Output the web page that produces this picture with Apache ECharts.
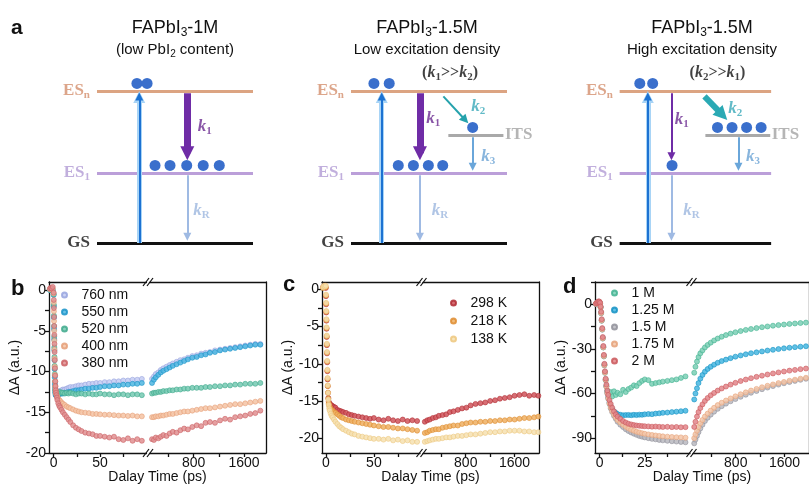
<!DOCTYPE html>
<html>
<head>
<meta charset="utf-8">
<title>FAPbI3 TA kinetics</title>
<script src="https://cdn.jsdelivr.net/npm/echarts@6/dist/echarts.min.js"></script>
<style>
html, body { margin: 0; padding: 0; background: #fff; }
#main { width: 809px; height: 486px; }
</style>
</head>
<body>
<div id="main"></div>
<script>
// ---------- panel a: energy level schematics (x: 0..10 = level width, y: energy units) ----------
const aTitles = ['-1M', '-1.5M', '-1.5M'];
const aSubtitles = ['{n|(low PbI}{s|2}{n| content)}', '{n|Low excitation density}', '{n|High excitation density}'];
const aLevelY = [0, 0.92, 2.0];          // GS, ES1, ESn
const aItsY = 1.42;
const aItsLineX = [null, [6.24, 9.77], [5.66, 9.94]];
const aEsnDotsX = [[2.56, 3.21], [1.47, 2.45], [1.33, 2.18]];
const aEs1DotsX = [[3.72, 4.68, 5.75, 6.81, 7.84], [3.03, 4.0, 4.96, 5.88], [3.46]];
const aItsDotsX = [[], [7.8], [6.46, 7.42, 8.38, 9.34]];
const aPumpX = [2.71, 1.97, 1.86];
const aK1X = [5.79, 4.42, 3.42];
const aK1Thick = [true, true, false];
const aK2From = [null, [5.92, 1.93], [5.6, 1.93]];
const aK2To = [null, [7.52, 1.575], [7.1, 1.62]];
const aK2Thick = [false, false, true];
const aK3X = [null, 7.8, 7.84];
const aK1Label = [[6.9, 1.53], [5.28, 1.64], [4.1, 1.62]];
const aKRLabel = [[6.7, 0.43], [5.71, 0.43], [4.74, 0.43]];
const aK2Label = [null, [8.16, 1.79], [7.63, 1.77]];
const aK3Label = [null, [8.8, 1.14], [8.8, 1.14]];
const aRatio = [null, ['1', '2'], ['2', '1']];
const aRatioX = [null, 6.35, 6.46];

// ---------- panel b ----------
const bNames = ['760 nm', '550 nm', '520 nm', '400 nm', '380 nm'];
const tB_L = [-4, -3, -2, -1, 0, 0.15, 0.3, 0.45, 0.6, 0.75, 0.9, 1.05, 1.2, 1.4, 1.6, 1.8, 2, 2.3, 2.6, 3,
  3.5, 4, 5, 6, 7, 8.5, 10, 12, 14, 16, 18, 21, 24, 27, 30, 34, 38, 42, 46, 50, 55, 60, 65, 70, 75, 80, 85, 90, 95];
const b760_L = [0.1, 0.0, 0.1, 0.0, -0.5, -1.9, -3.3, -4.6, -5.9, -7.2, -8.4, -9.5, -10.5, -11.4, -12.0, -12.4, -12.6, -12.7, -12.7, -12.6,
  -12.6, -12.5, -12.5, -12.4, -12.4, -12.3, -12.2, -12.2, -12.1, -12.0, -11.9, -11.9, -11.8, -11.7, -11.7, -11.6, -11.5, -11.5, -11.4, -11.4, -11.3, -11.3, -11.2, -11.2, -11.1, -11.1, -11.0, -11.0, -10.9];
const b550_L = [0.0, 0.1, 0.0, -0.1, -0.6, -2.0, -3.4, -4.8, -6.1, -7.4, -8.6, -9.7, -10.7, -11.6, -12.2, -12.6, -12.8, -12.9, -12.9, -12.9,
  -12.8, -12.8, -12.8, -12.8, -12.7, -12.7, -12.7, -12.6, -12.6, -12.5, -12.5, -12.4, -12.3, -12.3, -12.2, -12.1, -12.1, -12.0, -12.0, -11.9, -11.8, -11.8, -11.7, -11.7, -11.6, -11.6, -11.5, -11.5, -11.4];
const b520_L = [0.1, 0.0, 0.2, 0.1, -0.5, -1.8, -3.1, -4.4, -5.7, -7.0, -8.2, -9.3, -10.3, -11.2, -11.9, -12.3, -12.5, -12.6, -12.7, -12.6,
  -12.6, -12.5, -12.6, -12.6, -12.5, -12.6, -12.6, -12.7, -12.6, -12.7, -12.6, -12.7, -12.8, -12.7, -12.7, -12.8, -12.7, -12.8, -12.8, -12.7, -12.8, -12.8, -12.9, -12.8, -12.8, -12.9, -12.8, -12.8, -12.9];
const b400_L = [0.1, 0.2, 0.1, 0.2, -0.4, -1.5, -2.6, -3.8, -5.0, -6.2, -7.3, -8.4, -9.4, -10.4, -11.2, -11.8, -12.2, -12.5, -12.7, -12.8,
  -13.0, -13.1, -13.3, -13.5, -13.6, -13.8, -13.95, -14.1, -14.3, -14.4, -14.5, -14.65, -14.8, -14.9, -15.0, -15.05, -15.1, -15.2, -15.2, -15.25, -15.3, -15.3, -15.35, -15.4, -15.4, -15.45, -15.4, -15.5, -15.5];
const b380_L = [0.2, 0.3, 0.2, 0.4, -0.3, -1.2, -2.2, -3.3, -4.4, -5.5, -6.6, -7.6, -8.6, -9.6, -10.5, -11.2, -11.8, -12.3, -12.6, -12.9,
  -13.2, -13.5, -13.9, -14.2, -14.4, -14.7, -15.0, -15.3, -15.6, -15.9, -16.2, -16.6, -16.9, -17.1, -17.3, -17.5, -17.6, -17.7, -17.9, -17.9, -18.0, -18.1, -18.0, -18.3, -18.4, -18.2, -18.5, -18.3, -18.5];
const tB_R = [140, 170, 200, 240, 280, 320, 370, 420, 470, 530, 590, 650, 710, 780, 850, 920, 990, 1060, 1140, 1220, 1300, 1380, 1460, 1540, 1620, 1700, 1780, 1860];
const b760_R = [-10.9, -10.6, -10.3, -10.1, -9.8, -9.6, -9.4, -9.2, -9.0, -8.8, -8.6, -8.5, -8.3, -8.1, -8.0, -7.8, -7.7, -7.6, -7.4, -7.3, -7.2, -7.1, -7.0, -6.9, -6.8, -6.7, -6.6, -6.6];
const b550_R = [-11.4, -11.0, -10.7, -10.4, -10.1, -9.9, -9.7, -9.5, -9.3, -9.1, -8.9, -8.7, -8.5, -8.3, -8.2, -8.0, -7.9, -7.7, -7.6, -7.4, -7.3, -7.2, -7.1, -7.0, -6.9, -6.8, -6.7, -6.7];
const b520_R = [-12.7, -12.6, -12.6, -12.5, -12.5, -12.4, -12.4, -12.3, -12.3, -12.2, -12.2, -12.1, -12.1, -12.0, -12.0, -12.0, -11.9, -11.9, -11.8, -11.8, -11.7, -11.7, -11.6, -11.6, -11.5, -11.5, -11.5, -11.4];
const b400_R = [-15.6, -15.6, -15.5, -15.5, -15.4, -15.4, -15.3, -15.2, -15.2, -15.1, -15.0, -14.9, -14.9, -14.8, -14.7, -14.6, -14.5, -14.5, -14.4, -14.3, -14.2, -14.1, -14.0, -14.0, -13.9, -13.8, -13.7, -13.6];
const b380_R = [-18.3, -18.4, -18.1, -18.2, -18.0, -17.8, -17.9, -17.6, -17.4, -17.5, -17.2, -17.0, -17.1, -16.8, -16.6, -16.7, -16.3, -16.2, -16.3, -16.0, -15.8, -15.9, -15.6, -15.5, -15.4, -15.2, -15.1, -14.8];

// ---------- panel c ----------
const cNames = ['298 K', '218 K', '138 K'];
const tC_L = [-3, -2, -1, 0, 0.15, 0.3, 0.45, 0.6, 0.75, 0.9, 1.05, 1.2, 1.4, 1.6, 1.8, 2, 2.3, 2.6, 3,
  3.5, 4, 5, 6, 7, 8.5, 10, 12, 14, 16, 18, 21, 24, 27, 30, 34, 38, 42, 46, 50, 55, 60, 65, 70, 75, 80, 85, 90, 95];
const c298_L = [0.3, 0.4, 0.5, 0.2, -0.9, -2.0, -3.1, -4.2, -5.3, -6.4, -7.5, -8.6, -9.8, -11.0, -12.1, -13.0, -13.9, -14.6, -15.1,
  -15.3, -15.4, -15.5, -15.6, -15.7, -15.8, -15.9, -16.2, -16.3, -16.4, -16.5, -16.6, -16.8, -16.9, -17.0, -17.1, -17.2, -17.3, -17.4, -17.3, -17.5, -17.6, -17.4, -17.6, -17.7, -17.5, -17.7, -17.6, -17.7];
const c218_L = [0.2, 0.3, 0.4, 0.3, -0.8, -1.9, -3.0, -4.1, -5.2, -6.3, -7.4, -8.5, -9.7, -10.9, -12.0, -13.0, -13.9, -14.7, -15.3,
  -15.6, -15.8, -16.0, -16.2, -16.3, -16.5, -16.6, -16.8, -17.0, -17.2, -17.3, -17.5, -17.6, -17.7, -17.8, -17.9, -18.0, -18.1, -18.2, -18.3, -18.4, -18.5, -18.5, -18.6, -18.7, -18.7, -18.8, -18.9, -19.0];
const c138_L = [0.3, 0.5, 0.4, 0.5, -0.7, -1.8, -2.9, -4.0, -5.1, -6.2, -7.3, -8.4, -9.6, -10.8, -11.9, -12.9, -13.9, -14.8, -15.5,
  -16.0, -16.3, -16.7, -17.0, -17.2, -17.5, -17.8, -18.1, -18.4, -18.6, -18.8, -19.0, -19.2, -19.4, -19.5, -19.7, -19.8, -19.9, -20.0, -20.1, -20.1, -20.2, -20.1, -20.3, -20.2, -20.4, -20.3, -20.5, -20.5];
const tC_R = [130, 170, 210, 260, 310, 360, 420, 480, 540, 600, 670, 740, 810, 880, 960, 1040, 1120, 1200, 1280, 1360, 1440, 1520, 1600, 1680, 1760, 1840, 1920, 1990];
const c298_R = [-17.8, -17.6, -17.5, -17.3, -17.2, -17.0, -16.9, -16.8, -16.5, -16.4, -16.2, -16.0, -15.9, -15.6, -15.4, -15.3, -15.2, -15.0, -14.9, -14.7, -14.6, -14.5, -14.3, -14.2, -14.1, -14.3, -14.2, -14.3];
const c218_R = [-19.3, -19.2, -19.0, -18.9, -18.8, -18.8, -18.6, -18.5, -18.4, -18.3, -18.3, -18.1, -18.0, -17.9, -17.9, -17.8, -17.8, -17.7, -17.7, -17.6, -17.6, -17.5, -17.5, -17.4, -17.3, -17.3, -17.2, -17.1];
const c138_R = [-20.5, -20.4, -20.3, -20.2, -20.1, -20.1, -20.0, -19.9, -19.9, -19.8, -19.7, -19.7, -19.6, -19.5, -19.5, -19.4, -19.3, -19.2, -19.2, -19.1, -19.1, -19.0, -19.0, -19.0, -19.1, -19.1, -19.2, -19.2];

// ---------- panel d ----------
const dNames = ['1 M', '1.25 M', '1.5 M', '1.75 M', '2 M'];
const tD_L = [-2, -1.5, -1, -0.5, 0, 0.3, 0.6, 0.9, 1.2, 1.5, 1.8, 2.1, 2.4, 2.7, 3,
  3.4, 3.8, 4.3, 4.8, 5.5, 6.2, 7, 8, 9, 10, 11.5, 13, 14.5, 16, 17.5, 19, 20.5, 22, 23.5, 25,
  27, 29, 31, 33, 35, 37.5, 40, 42.5, 45, 47.5];
const d100_L = [0.3, 0.8, 1.2, 1.5, 1.2, 0.5, -2, -6, -11, -17, -23, -29, -35, -41, -46,
  -51, -55, -58, -60, -61.5, -59, -62, -58.5, -61, -59.5, -60.5, -57.5, -59, -57, -56, -54.5, -55, -53, -51.5, -50.5,
  -51, -53.5, -53, -52.5, -52, -51.5, -51, -50.5, -49.5, -48.5];
const d125_L = [0.4, 0.9, 1.3, 1.6, 1.4, 0.6, -1.8, -5.5, -10.5, -16.5, -22.5, -28.5, -34.5, -40.5, -45.5,
  -50.5, -55, -59, -62.5, -66, -68.5, -70.5, -72, -73, -73.8, -74.3, -74.6, -74.5, -74.4, -74.6, -74.3, -74.5, -74.2, -74.3, -74.0,
  -73.8, -73.9, -73.5, -73.3, -73.0, -72.8, -72.5, -72.2, -71.9, -71.6];
const d150_L = [0.2, 0.6, 1.0, 1.3, 1.1, 0.4, -2.2, -6, -11, -17, -23, -29, -35, -41, -46,
  -51, -55.5, -60, -63.5, -67, -70, -72.5, -75, -77, -79, -81, -82.5, -84, -85.2, -86.2, -87, -87.8, -88.5, -89, -89.5,
  -90, -90.5, -90.8, -91.2, -91.5, -91.8, -92.1, -92.3, -92.6, -92.8];
const d175_L = [0.3, 0.7, 1.1, 1.4, 1.2, 0.5, -2, -5.8, -10.8, -16.8, -22.8, -28.8, -34.8, -40.8, -45.8,
  -50.8, -55.3, -59.5, -63, -66.5, -69.3, -71.8, -74, -76, -77.8, -79.5, -81, -82.3, -83.4, -84.3, -85, -85.7, -86.2, -86.7, -87.1,
  -87.5, -87.9, -88.2, -88.5, -88.8, -89.0, -89.2, -89.4, -89.5, -89.7];
const d200_L = [0.5, 1.0, 1.5, 2.0, 1.8, 1.0, -1.5, -5, -10, -16, -22, -28, -34, -40, -45,
  -50, -54, -58, -61, -64.5, -67, -69.5, -72, -74, -75.5, -77, -78.5, -79.5, -80.3, -80.8, -81.2, -81.5, -81.7, -81.9, -82.0,
  -82.1, -82.3, -82.2, -82.4, -82.5, -82.4, -82.6, -82.5, -82.7, -82.6];
const tD_R = [120, 140, 165, 190, 220, 255, 295, 340, 390, 445, 505, 570, 640, 715, 795, 880, 965, 1050, 1140, 1230, 1320, 1410, 1500, 1590, 1680, 1770, 1860, 1950];
const d100_R = [-46, -42, -38.5, -35.5, -33, -31, -29, -27.3, -25.8, -24.3, -23, -21.8, -20.7, -19.7, -18.8, -18, -17.2, -16.6, -16, -15.4, -14.9, -14.4, -14, -13.6, -13.2, -12.9, -12.6, -12.3];
const d125_R = [-64, -60, -56.5, -53, -50, -47.5, -45.3, -43.5, -42, -40.6, -39.3, -38.2, -37.2, -36.2, -35.2, -34.4, -33.6, -32.9, -32.3, -31.7, -31.1, -30.6, -30.1, -29.6, -29.2, -28.8, -28.5, -28.2];
const d150_R = [-93.5, -91, -88.5, -86, -83.5, -81, -78.5, -76.3, -74.2, -72.2, -70.3, -68.5, -66.8, -65.2, -63.7, -62.2, -60.8, -59.5, -58.3, -57.1, -56, -55, -54, -53.1, -52.3, -51.5, -50.8, -50.1];
const d175_R = [-90, -87.5, -85, -82.5, -80, -77.8, -75.5, -73.5, -71.5, -69.6, -67.8, -66.2, -64.7, -63.3, -61.9, -60.5, -59.2, -58, -56.9, -55.8, -54.8, -53.9, -53, -52.2, -51.4, -50.7, -50, -49.4];
const d200_R = [-82.5, -79, -75.5, -72.5, -69.8, -67.3, -65, -63, -61.2, -59.6, -58, -56.6, -55.3, -54, -52.8, -51.6, -50.6, -49.7, -48.8, -48, -47.2, -46.5, -45.8, -45.2, -44.6, -44.1, -43.6, -43.2];

// tick labels
const bXLabelsL = [0, 50], bXTicksL = [0, 25, 50, 75];
const cXLabelsL = [0, 50], cXTicksL = [0, 25, 50, 75];
const dXLabelsL = [0, 25], dXTicksL = [0, 12.5, 25, 37.5];
const xLabelsR = [800, 1600], xTicksR = [400, 800, 1200, 1600];
const bYLabels = [-20, -15, -10, -5, 0], bYTicks = [-20, -17.5, -15, -12.5, -10, -7.5, -5, -2.5, 0];
const cYLabels = [-20, -15, -10, -5, 0], cYTicks = [-20, -17.5, -15, -12.5, -10, -7.5, -5, -2.5, 0];
const dYLabels = [-90, -60, -30, 0], dYTicks = [-90, -75, -60, -45, -30, -15, 0, 15];

// ---------------------------------------------------------------------------
const SANS = "'Liberation Sans', Arial, sans-serif";
const SERIF = "'Liberation Serif', 'Times New Roman', serif";

const chart = echarts.init(document.getElementById('main'));
const grid = [], xAxis = [], yAxis = [], series = [], legend = [], title = [], graphic = [];

// schematic grids
const aOrigins = [97, 351, 621];
const aUnitX = 15.6, aUnitY = 76, aGroundY = 243;
const aXR = [-3, 12.5], aYR = [-0.3, 2.6];

function arrow(from, to, color, width, head) {
  // pull the line end back so the triangle tip lands on `to`
  const dx = (to[0] - from[0]) * aUnitX, dy = (to[1] - from[1]) * aUnitY;
  const f = head / 2 / Math.hypot(dx, dy);
  const end = [to[0] - (to[0] - from[0]) * f, to[1] - (to[1] - from[1]) * f];
  return { coords: [from, end], symbol: ['none', 'triangle'], symbolSize: [1, head],
    lineStyle: { color: color, width: width, opacity: 1 } };
}
function kRich(color, size) {
  return {
    k: { fontFamily: SERIF, fontStyle: 'italic', fontWeight: 'bold', fontSize: size, color: color, lineHeight: 20 },
    s: { fontFamily: SERIF, fontWeight: 'bold', fontSize: 11, color: color, lineHeight: 10, verticalAlign: 'bottom' },
    p: { fontFamily: SERIF, fontWeight: 'bold', fontSize: size, color: color, lineHeight: 20 }
  };
}
function txt(x, y, formatter, rich, position) {
  return { value: [x, y], label: { show: true, position: position, distance: 0, formatter: formatter, rich: rich } };
}

for (let i = 0; i < 3; i++) {
  grid.push({ left: aOrigins[i] + aXR[0] * aUnitX, width: (aXR[1] - aXR[0]) * aUnitX,
    top: aGroundY - aYR[1] * aUnitY, height: (aYR[1] - aYR[0]) * aUnitY });
  xAxis.push({ gridIndex: i, type: 'value', min: aXR[0], max: aXR[1], show: false });
  yAxis.push({ gridIndex: i, type: 'value', min: aYR[0], max: aYR[1], show: false });

  const levels = [
    { coords: [[0, aLevelY[0]], [10, aLevelY[0]]], lineStyle: { color: '#111', width: 3 } },
    { coords: [[0, aLevelY[1]], [10, aLevelY[1]]], lineStyle: { color: '#bb9fd9', width: 3 } },
    { coords: [[0, aLevelY[2]], [10, aLevelY[2]]], lineStyle: { color: '#dca482', width: 3 } }
  ];
  if (aItsLineX[i]) levels.push({ coords: [[aItsLineX[i][0], aItsY], [aItsLineX[i][1], aItsY]], lineStyle: { color: '#a9a9a9', width: 3 } });
  series.push({ type: 'lines', coordinateSystem: 'cartesian2d', xAxisIndex: i, yAxisIndex: i, silent: true, z: 1,
    lineStyle: { opacity: 1 }, data: levels });

  const arrows = [
    arrow([aPumpX[i], aLevelY[0]], [aPumpX[i], aLevelY[2]], '#a8d4f6', 5, 12),
    arrow([aPumpX[i], aLevelY[0]], [aPumpX[i], aLevelY[2] - 0.02], '#1c72d2', 2, 8),
    aK1Thick[i] ? arrow([aK1X[i], 1.97], [aK1X[i], 1.09], '#6f2ca6', 7, 14)
                : arrow([aK1X[i], 1.97], [aK1X[i], 1.09], '#6f2ca6', 2, 8),
    arrow([aK1X[i], 0.89], [aK1X[i], 0.03], '#9fbae3', 2, 8)
  ];
  if (aK2From[i]) arrows.push(aK2Thick[i] ? arrow(aK2From[i], aK2To[i], '#2aa9b4', 6, 14)
                                          : arrow(aK2From[i], aK2To[i], '#25a2ac', 2, 9));
  if (aK3X[i]) arrows.push(arrow([aK3X[i], 1.39], [aK3X[i], 0.95], '#6aa6da', 2, 8));
  series.push({ type: 'lines', coordinateSystem: 'cartesian2d', xAxisIndex: i, yAxisIndex: i, silent: true, z: 2,
    lineStyle: { opacity: 1 }, data: arrows });

  const dots = [];
  aEsnDotsX[i].forEach(x => dots.push([x, aLevelY[2] + 0.1]));
  aEs1DotsX[i].forEach(x => dots.push([x, aLevelY[1] + 0.1]));
  aItsDotsX[i].forEach(x => dots.push([x, aItsY + 0.1]));
  series.push({ type: 'scatter', xAxisIndex: i, yAxisIndex: i, silent: true, z: 3, symbolSize: 11,
    itemStyle: { color: '#3a6fcc', opacity: 1 }, data: dots });

  const lvRich = (c) => ({
    m: { fontFamily: SERIF, fontWeight: 'bold', fontSize: 17, color: c, lineHeight: 20 },
    s: { fontFamily: SERIF, fontWeight: 'bold', fontSize: 11, color: c, lineHeight: 10, verticalAlign: 'bottom' }
  });
  const texts = [
    txt(-0.45, aLevelY[2], '{m|ES}{s|n}', lvRich('#d38f6d'), 'left'),
    txt(-0.45, aLevelY[1], '{m|ES}{s|1}', lvRich('#b29bd4'), 'left'),
    txt(-0.45, aLevelY[0], '{m|GS}', lvRich('#111'), 'left'),
    txt(aK1Label[i][0], aK1Label[i][1], '{k|k}{s|1}', kRich('#6b2c91', 17), 'inside'),
    txt(aKRLabel[i][0], aKRLabel[i][1], '{k|k}{s|R}', kRich('#9cb6de', 17), 'inside')
  ];
  if (aK2Label[i]) texts.push(txt(aK2Label[i][0], aK2Label[i][1], '{k|k}{s|2}', kRich('#3aa9b9', 17), 'inside'));
  if (aK3Label[i]) texts.push(txt(aK3Label[i][0], aK3Label[i][1], '{k|k}{s|3}', kRich('#6aa2d4', 17), 'inside'));
  if (aItsLineX[i]) texts.push(txt(aItsLineX[i][1] + 0.1, aItsY, '{m|ITS}', lvRich('#a3a3a3'), 'right'));
  if (aRatio[i]) texts.push(txt(aRatioX[i], 2.24,
    '{p|(}{k|k}{s|' + aRatio[i][0] + '}{p|>>}{k|k}{s|' + aRatio[i][1] + '}{p|)}', kRich('#111', 16), 'inside'));
  series.push({ type: 'scatter', xAxisIndex: i, yAxisIndex: i, silent: true, z: 4, symbolSize: 0, data: texts });

  const cx = [175, 427, 702][i];
  title.push({ text: '{a|FAPbI}{s|3}{a|' + aTitles[i] + '}', left: cx, top: 17, textAlign: 'center', padding: 0,
    textStyle: { fontWeight: 'normal', rich: {
      a: { fontFamily: SANS, fontWeight: 'normal', fontSize: 18, color: '#111', lineHeight: 22 },
      s: { fontFamily: SANS, fontWeight: 'normal', fontSize: 12, color: '#111', lineHeight: 12, verticalAlign: 'bottom' } } } });
  title.push({ text: aSubtitles[i], left: cx, top: 41, textAlign: 'center', padding: 0,
    textStyle: { fontWeight: 'normal', rich: {
      n: { fontFamily: SANS, fontWeight: 'normal', fontSize: 15, color: '#111', lineHeight: 18 },
      s: { fontFamily: SANS, fontWeight: 'normal', fontSize: 10, color: '#111', lineHeight: 10, verticalAlign: 'bottom' } } } });
}
title.push({ text: 'a', left: 11, top: 18, padding: 0, textStyle: { fontFamily: SANS, fontWeight: 'bold', fontSize: 21, color: '#111' } });

// broken-axis kinetics panels
const PLOT_TOP = 282, PLOT_BOTTOM = 453, GAP = 1.5;
const axisLineStyle = { color: '#111', width: 1.3 };
const tickFont = { fontFamily: SANS, fontSize: 14, color: '#111' };
const plain = v => String(v);

function bottomAxis(g, range, ticks, labels) {
  return { gridIndex: g, type: 'value', position: 'bottom', min: range[0], max: range[1],
    axisLine: { show: true, onZero: false, lineStyle: axisLineStyle },
    axisTick: { show: true, length: 4, customValues: ticks, lineStyle: axisLineStyle },
    axisLabel: { show: true, margin: 3, customValues: labels, formatter: plain, ...tickFont },
    splitLine: { show: false } };
}
function frameAxis(g, range) {
  return { gridIndex: g, type: 'value', position: 'top', min: range[0], max: range[1],
    axisLine: { show: true, onZero: false, lineStyle: axisLineStyle },
    axisTick: { show: false }, axisLabel: { show: false }, splitLine: { show: false } };
}
function dotSeries(name, xi, yi, t, v, fill, edge) {
  return { type: 'scatter', name: name, xAxisIndex: xi, yAxisIndex: yi, symbol: 'circle', symbolSize: 5,
    silent: true, itemStyle: { color: fill, borderColor: edge, borderWidth: 0.7, opacity: 0.85 },
    data: t.map((x, k) => [x, v[k]]) };
}

function addPanel(p) {
  const g = grid.length, xi = xAxis.length, yi = yAxis.length;
  grid.push({ left: p.left, top: PLOT_TOP, width: p.brk - GAP - p.left, height: PLOT_BOTTOM - PLOT_TOP });
  grid.push({ left: p.brk + GAP, top: PLOT_TOP, width: p.right - p.brk - GAP, height: PLOT_BOTTOM - PLOT_TOP });
  xAxis.push(bottomAxis(g, p.xL, p.xTicksL, p.xLabelsL), frameAxis(g, p.xL),
             bottomAxis(g + 1, p.xR, xTicksR, xLabelsR), frameAxis(g + 1, p.xR));
  yAxis.push({ gridIndex: g, type: 'value', position: 'left', min: p.y[0], max: p.y[1],
    axisLine: { show: true, onZero: false, lineStyle: axisLineStyle },
    axisTick: { show: true, length: 4, customValues: p.yTicks, lineStyle: axisLineStyle },
    axisLabel: { show: true, margin: 3, customValues: p.yLabels, formatter: plain, ...tickFont },
    splitLine: { show: false },
    name: 'ΔA (a.u.)', nameLocation: 'middle', nameRotate: 90, nameGap: 24,
    nameTextStyle: { fontFamily: SANS, fontSize: 14, color: '#111' } });
  yAxis.push({ gridIndex: g + 1, type: 'value', position: 'right', min: p.y[0], max: p.y[1],
    axisLine: { show: true, onZero: false, lineStyle: axisLineStyle },
    axisTick: { show: false }, axisLabel: { show: false }, splitLine: { show: false } });
  p.names.forEach((name, k) => {
    series.push(dotSeries(name, xi, yi, p.tL, p.valsL[k], p.fills[k], p.edges[k]));
    series.push(dotSeries(name, xi + 2, yi + 1, p.tR, p.valsR[k], p.fills[k], p.edges[k]));
  });
  legend.push({ data: p.names, orient: 'vertical', left: p.legendLeft, top: p.legendTop, padding: 0,
    itemWidth: 24, itemHeight: 5, itemGap: p.legendGap, selectedMode: false,
    textStyle: { fontFamily: SANS, fontSize: 14, color: '#111' } });
  title.push({ text: p.letter, left: p.letterX, top: p.letterY, padding: 0,
    textStyle: { fontFamily: SANS, fontWeight: 'bold', fontSize: 22, color: '#111' } });
  title.push({ text: 'Dalay Time (ps)', left: (p.left + Math.min(p.right, 809)) / 2, top: 470, textAlign: 'center', padding: 0,
    textStyle: { fontFamily: SANS, fontWeight: 'normal', fontSize: 14, color: '#111' } });
  // "//" break marks on top and bottom frame
  [PLOT_TOP, PLOT_BOTTOM].forEach(y => {
    [-2, 2].forEach(d => graphic.push({ type: 'line', silent: true, z: 100,
      shape: { x1: p.brk + d - 3, y1: y + 4, x2: p.brk + d + 3, y2: y - 4 },
      style: { stroke: '#111', lineWidth: 1.2 } }));
  });
}

addPanel({ letter: 'b', letterX: 11, letterY: 278, left: 49, brk: 148, right: 266,
  xL: [-5, 100], xR: [100, 1950], y: [-20, 1],
  xTicksL: bXTicksL, xLabelsL: bXLabelsL, yTicks: bYTicks, yLabels: bYLabels,
  names: bNames, tL: tB_L, tR: tB_R,
  valsL: [b760_L, b550_L, b520_L, b400_L, b380_L], valsR: [b760_R, b550_R, b520_R, b400_R, b380_R],
  fills: ['#c3cbf3', '#4fb6e0', '#74c9b1', '#f4c3a3', '#e08f91'],
  edges: ['#98a4de', '#1a93c8', '#3fa98c', '#e59f78', '#cb6064'],
  legendLeft: 61, legendTop: 288, legendGap: 3 });
addPanel({ letter: 'c', letterX: 283, letterY: 274, left: 322, brk: 421.5, right: 539,
  xL: [-4, 98], xR: [100, 2000], y: [-22, 1],
  xTicksL: cXTicksL, xLabelsL: cXLabelsL, yTicks: cYTicks, yLabels: cYLabels,
  names: cNames, tL: tC_L, tR: tC_R,
  valsL: [c298_L, c218_L, c138_L], valsR: [c298_R, c218_R, c138_R],
  fills: ['#d0545a', '#eeaf62', '#f6e0b0'],
  edges: ['#b02d34', '#de8c30', '#edc77e'],
  legendLeft: 450, legendTop: 296, legendGap: 4 });
addPanel({ letter: 'd', letterX: 563, letterY: 276, left: 595, brk: 691.5, right: 824,
  xL: [-2.5, 50], xR: [100, 2000], y: [-100, 15],
  xTicksL: dXTicksL, xLabelsL: dXLabelsL, yTicks: dYTicks, yLabels: dYLabels,
  names: dNames, tL: tD_L, tR: tD_R,
  valsL: [d100_L, d125_L, d150_L, d175_L, d200_L], valsR: [d100_R, d125_R, d150_R, d175_R, d200_R],
  fills: ['#7acfb5', '#45b6e0', '#b9b9c0', '#f3c6a8', '#e28589'],
  edges: ['#42b190', '#1491c3', '#90909a', '#e5a27a', '#ca585c'],
  legendLeft: 611, legendTop: 286, legendGap: 3 });

chart.setOption({
  animation: false,
  backgroundColor: '#fff',
  title: title,
  legend: legend,
  grid: grid,
  xAxis: xAxis,
  yAxis: yAxis,
  series: series,
  graphic: graphic
});
</script>
</body>
</html>
